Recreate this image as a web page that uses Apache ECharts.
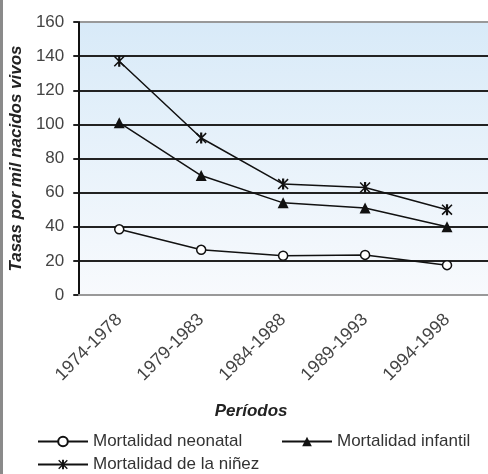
<!DOCTYPE html>
<html><head><meta charset="utf-8">
<script src="https://cdn.jsdelivr.net/npm/echarts@6/dist/echarts.min.js"></script>
<style>html,body{margin:0;padding:0;background:#fff}#c{width:488px;height:474px}</style>
</head><body><div id="c"></div>
<script>
const categories = ['1974-1978','1979-1983','1984-1988','1989-1993','1994-1998'];
const neonatal = [38.5, 26.5, 23, 23.5, 17.5];
const infantil = [101, 70, 54, 51, 40];
const ninez = [137, 92, 65, 63, 50];
const seriesNames = ['Mortalidad neonatal','Mortalidad infantil','Mortalidad de la niñez'];
const yTicks = {min: 0, max: 160, interval: 20};

const star = 'path://M4,0L6,0L6,10L4,10Z M1,0L10,9L9,10L0,1Z M9,0L10,1L1,10L0,9Z';
const font = 'Liberation Sans';
const chart = echarts.init(document.getElementById('c'));
const legendBase = {orient:'horizontal', itemWidth:50, itemHeight:12, itemGap:5,
  textStyle:{fontFamily:font, fontSize:17, color:'#333'}};
chart.setOption({
  animation:false,
  graphic:[{type:'rect', shape:{x:0,y:0,width:3,height:474}, style:{fill:'#8a8a8a'}}],
  grid:{left:78, top:22, right:0, bottom:179,
    show:true, borderWidth:0,
    backgroundColor:{type:'linear',x:0,y:0,x2:0,y2:1,colorStops:[{offset:0,color:'#d8eaf8'},{offset:1,color:'#f8fafd'}]}},
  legend:[
    Object.assign({}, legendBase, {left:32, top:428, data:[seriesNames[0]]}),
    Object.assign({}, legendBase, {left:276, top:428, data:[seriesNames[1]]}),
    Object.assign({}, legendBase, {left:32, top:451, data:[seriesNames[2]]})
  ],
  xAxis:{type:'category', data:categories, boundaryGap:true,
    name:'Períodos', nameLocation:'middle', nameGap:108,
    nameTextStyle:{fontFamily:font, fontSize:17, fontWeight:'bold', fontStyle:'italic', color:'#222', padding:[0,64,0,0]},
    axisLine:{lineStyle:{color:'#999', width:2}},
    axisTick:{alignWithLabel:true, length:5, lineStyle:{color:'#777'}},
    axisLabel:{rotate:45, margin:22, fontFamily:font, fontSize:18, color:'#444'}},
  yAxis:{type:'value', min:yTicks.min, max:yTicks.max, interval:yTicks.interval,
    name:'Tasas por mil nacidos vivos', nameLocation:'middle', nameGap:46,
    nameTextStyle:{fontFamily:font, fontSize:17, fontWeight:'bold', fontStyle:'italic', color:'#222'},
    axisLine:{show:true, lineStyle:{color:'#111', width:2}},
    axisTick:{show:true, length:5, lineStyle:{color:'#222', width:2}},
    axisLabel:{margin:14, fontFamily:font, fontSize:17, color:'#444'},
    splitLine:{lineStyle:{color:['#999','#222','#222','#222','#222','#222','#222','#222','#999'], width:2}}},
  series:[
    {name:seriesNames[0], type:'line', data:neonatal, symbol:'circle', symbolSize:9,
      lineStyle:{color:'#111', width:1.5}, itemStyle:{color:'#fff', borderColor:'#111', borderWidth:1.5}},
    {name:seriesNames[1], type:'line', data:infantil, symbol:'triangle', symbolSize:11,
      lineStyle:{color:'#111', width:1.5}, itemStyle:{color:'#111'}},
    {name:seriesNames[2], type:'line', data:ninez, symbol:star, symbolSize:11,
      lineStyle:{color:'#111', width:1.5}, itemStyle:{color:'#111'}}
  ]
});
</script></body></html>
